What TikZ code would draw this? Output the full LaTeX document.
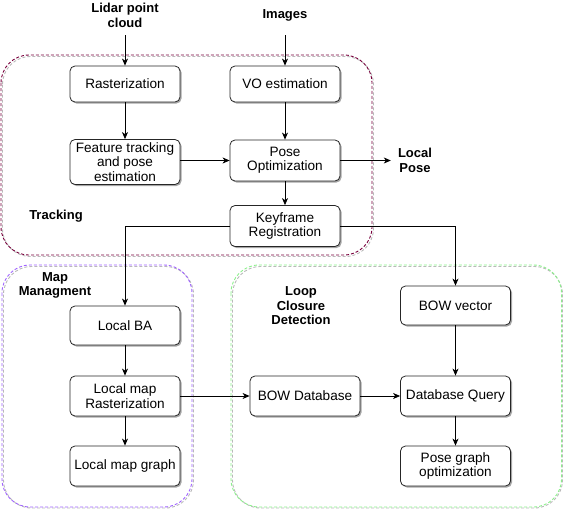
\documentclass[tikz,border=0pt]{standalone}
\usepackage{fontspec}
\setmainfont{Liberation Sans}
\usetikzlibrary{arrows.meta,shadows}
\definecolor{trk}{RGB}{120,0,60}
\definecolor{mapc}{RGB}{160,100,255}
\definecolor{loopc}{RGB}{140,240,140}
\begin{document}
\begin{tikzpicture}[x=1pt,y=-1pt,
  font=\fontsize{13.6}{14.3}\selectfont,
  box/.style={draw=black!85, line width=0.8pt, rounded corners=5pt, fill=white,
    minimum width=110pt, align=center, inner sep=1pt,
    drop shadow={shadow xshift=1.5pt, shadow yshift=-1.5pt, opacity=0.35, fill=black}},
  lbl/.style={font=\fontsize{13}{14.5}\selectfont\bfseries, align=center, inner sep=1pt},
  arr/.style={-{Stealth[length=7pt,width=6pt,inset=2pt]}, line width=0.8pt},
  cont/.style={dash pattern=on 3pt off 2pt, line width=0.9pt, rounded corners=28pt},
  contsh/.style={cont, draw=gray!55}
]
\useasboundingbox (0,0) rectangle (563,509);

% containers
\draw[contsh] (2.5,56.5) rectangle (373.5,256.5);
\draw[cont, draw=trk] (1,55) rectangle (372,255);
\draw[contsh] (3.5,266.5) rectangle (193.5,508);
\draw[cont, draw=mapc] (2,265) rectangle (192,507);
\draw[contsh] (232.5,266.5) rectangle (562.5,508);
\draw[cont, draw=loopc] (231,265) rectangle (561.5,507);

% labels
\node[lbl] (lidar) at (125,15.5) {Lidar point\\cloud};
\node[lbl] (images) at (285,15) {Images};
\node[lbl] (lpose) at (415,160.5) {Local\\Pose};
\node[lbl] (tracking) at (56,216) {Tracking};
\node[lbl] (maplbl) at (55,285.5) {Map\\Managment};
\node[lbl] (looplbl) at (301,306) {Loop\\Closure\\Detection};
\coordinate (lidarend) at (125,35);
\coordinate (imagesend) at (285,35);

% boxes
\node[box, minimum height=36pt] (rast) at (125,84) {Rasterization};
\node[box, minimum height=36pt] (vo) at (285,84) {VO estimation};
\node[box, minimum height=45pt] (feat) at (125,162) {Feature tracking\\and pose\\estimation};
\node[box, minimum height=41pt] (pose) at (285,160.5) {Pose\\Optimization};
\node[box, minimum height=41pt] (key) at (285,226) {Keyframe\\Registration};
\node[box, minimum height=39pt] (localba) at (125,325.5) {Local BA};
\node[box, minimum height=40pt] (lmr) at (125,396) {Local map\\Rasterization};
\node[box, minimum height=40pt] (lmg) at (125,466) {Local map graph};
\node[box, minimum height=39pt] (bowv) at (455.5,305.5) {BOW vector};
\node[box, minimum height=40pt] (bowdb) at (305,396) {BOW Database};
\node[box, minimum height=40pt] (dbq) at (455.5,396) {Database Query};
\node[box, minimum height=40pt] (pgo) at (455.5,466) {Pose graph\\optimization};

% connectors
\draw[arr] (lidarend) -- (rast);
\draw[arr] (imagesend) -- (vo);
\draw[arr] (rast) -- (feat);
\draw[arr] (vo) -- (pose);
\draw[arr] (feat.east |- pose.west) -- (pose.west);
\draw[arr] (pose.east) -- ([xshift=-6pt]lpose.west);
\draw[arr] (pose) -- (key);
\draw[arr] (key.west) -| (localba.north);
\draw[arr] (key.east) -| (bowv.north);
\draw[arr] (localba) -- (lmr);
\draw[arr] (lmr) -- (lmg);
\draw[arr] (lmr) -- (bowdb);
\draw[arr] (bowdb) -- (dbq);
\draw[arr] (bowv) -- (dbq);
\draw[arr] (dbq) -- (pgo);
\end{tikzpicture}
\end{document}
